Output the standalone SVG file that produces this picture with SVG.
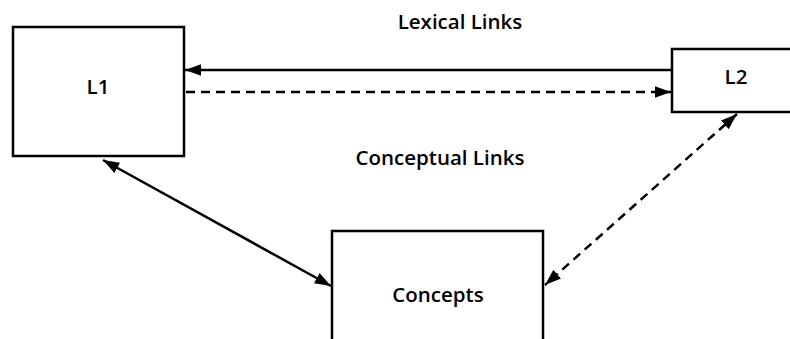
<svg xmlns="http://www.w3.org/2000/svg" width="790" height="339" viewBox="0 0 790 339">
<style>
.box{fill:#fff;stroke:#000;stroke-width:2.5}
.t{font-family:"Open Sans","Liberation Sans",sans-serif;font-size:20.5px;font-weight:600;fill:#000;text-anchor:middle}
.c{fill:none;stroke:#000;stroke-width:2.5}
.d{stroke-dasharray:9,6}
</style>
<defs>
<marker id="ah" viewBox="0 0 14 10" refX="14" refY="5" markerWidth="6.5" markerHeight="5" orient="auto-start-reverse" markerUnits="strokeWidth">
<path d="M0,0 L14,5 L0,10 z" fill="#000"/>
</marker>
</defs>
<g id="L1"><rect class="box" x="13" y="27" width="171" height="129"/><text class="t" x="98" y="94">L1</text></g>
<g id="L2"><rect class="box" x="672" y="49" width="130" height="63"/><text class="t" x="736" y="84">L2</text></g>
<g id="Concepts"><rect class="box" x="332" y="231" width="211" height="120"/><text class="t" x="438" y="302">Concepts</text></g>
<g id="labels">
<text class="t" x="460" y="29">Lexical Links</text>
<text class="t" x="440" y="165">Conceptual Links</text>
</g>
<g id="connectors">
<line class="c" x1="672" y1="70" x2="185" y2="70" marker-end="url(#ah)"/>
<line class="c d" x1="186" y1="92" x2="671" y2="92" marker-end="url(#ah)"/>
<line class="c" x1="103" y1="160" x2="331" y2="286" marker-start="url(#ah)" marker-end="url(#ah)"/>
<line class="c d" x1="737" y1="114" x2="545" y2="285" marker-start="url(#ah)" marker-end="url(#ah)"/>
</g>
</svg>
